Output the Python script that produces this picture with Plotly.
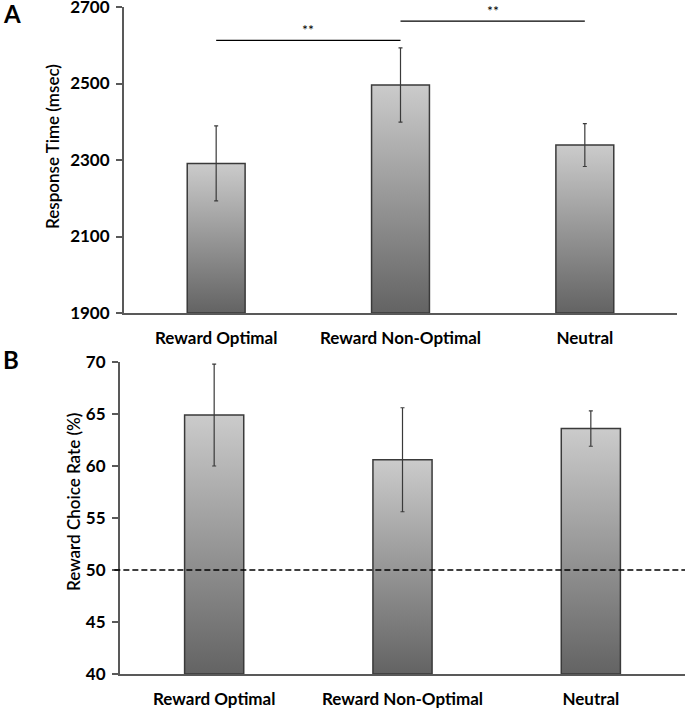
import plotly.graph_objects as go

conditions = ["Reward Optimal", "Reward Non-Optimal", "Neutral"]

rt_mean = [2291, 2496, 2339]
rt_err = [98, 97, 56]

choice_mean = [64.9, 60.6, 63.6]
choice_err = [4.9, 5.0, 1.7]

# significance brackets for panel A: (from, to, height)
sig_pairs = [(0, 1, 2613), (1, 2, 2663)]
chance_level = 50

W, H = 685, 709
BAR_W = 0.314
grad = [[0, "#636363"], [1, "#cbcbcb"]]
dark = "#3a3a3a"
FONT = "Lato"

fig = go.Figure()


def px(v, total):
    return v / total


def add_bars(means, errs, base, xa, ya):
    for i, m in enumerate(means):
        x0, x1 = i - BAR_W / 2, i + BAR_W / 2
        fig.add_trace(go.Scatter(
            x=[x0, x0, x1, x1, x0], y=[base, m, m, base, base],
            mode="lines", fill="toself",
            fillgradient=dict(type="vertical", colorscale=grad),
            line=dict(color=dark, width=1.5),
            xaxis=xa, yaxis=ya, showlegend=False, hoverinfo="skip"))
    fig.add_trace(go.Scatter(
        x=list(range(len(means))), y=means, mode="markers",
        marker=dict(size=1, opacity=0),
        error_y=dict(type="data", array=errs, color=dark, thickness=1.2, width=2),
        xaxis=xa, yaxis=ya, showlegend=False))


add_bars(rt_mean, rt_err, 1900, "x", "y")
add_bars(choice_mean, choice_err, 40, "x2", "y2")

for a, b, h in sig_pairs:
    fig.add_trace(go.Scatter(x=[a, b], y=[h, h], mode="lines",
                             line=dict(color="black", width=1.3),
                             xaxis="x", yaxis="y", showlegend=False, hoverinfo="skip"))
    fig.add_annotation(x=(a + b) / 2, y=h, xref="x", yref="y", text="**",
                       showarrow=False, yanchor="bottom", yshift=0,
                       font=dict(family=FONT, size=14, color="black"))

fig.add_shape(type="line", xref="x2 domain", yref="y2", x0=-0.01, x1=1,
              y0=chance_level, y1=chance_level,
              line=dict(color="black", width=1.5, dash="6px,3px"))

xcommon = dict(range=[-0.5, 2.5], tickvals=[0, 1, 2], ticktext=conditions,
               showline=True, linecolor="#595959", linewidth=2, ticks="",
               showgrid=False, zeroline=False, fixedrange=True, automargin=False,
               ticklabeloverflow="allow", ticklabelstandoff=9,
               tickfont=dict(family=FONT, size=17, color="black", weight="bold"))
ycommon = dict(showline=True, linecolor="#595959", linewidth=2, ticks="outside",
               ticklen=6, tickwidth=1.5, tickcolor="#595959", automargin=False,
               showgrid=False, zeroline=False, ticklabelstandoff=3, fixedrange=True,
               ticklabeloverflow="allow",
               tickfont=dict(family=FONT, size=17, color="black", weight="bold"))

fig.update_layout(
    width=W, height=H, margin=dict(l=0, r=0, t=0, b=0),
    plot_bgcolor="white", paper_bgcolor="white",
    xaxis=dict(domain=[px(124, W), px(677, W)], anchor="y", **xcommon),
    yaxis=dict(domain=[1 - px(313, H), 1 - px(7, H)], range=[1900, 2700],
               tickvals=[1900, 2100, 2300, 2500, 2700], anchor="x", **ycommon),
    xaxis2=dict(domain=[px(120, W), 1], anchor="y2", **xcommon),
    yaxis2=dict(domain=[1 - px(674, H), 1 - px(362, H)], range=[40, 70],
                tickvals=[40, 45, 50, 55, 60, 65, 70], anchor="x2", **ycommon),
)

# panel letters and axis titles
fig.add_annotation(text="A", x=px(1, W), y=1 + px(3, H), xref="paper", yref="paper",
                   xanchor="left", yanchor="top", showarrow=False,
                   font=dict(family=FONT, size=24, color="black", weight="bold"))
fig.add_annotation(text="B", x=px(1, W), y=1 - px(343, H), xref="paper", yref="paper",
                   xanchor="left", yanchor="top", showarrow=False,
                   font=dict(family=FONT, size=24, color="black", weight="bold"))
fig.add_annotation(text="Response Time (msec)", x=px(52, W), y=1 - px(147, H),
                   xref="paper", yref="paper", textangle=-90, showarrow=False,
                   xanchor="center", yanchor="middle",
                   font=dict(family=FONT, size=17, color="black", weight=600))
fig.add_annotation(text="Reward Choice Rate (%)", x=px(73, W), y=1 - px(502, H),
                   xref="paper", yref="paper", textangle=-90, showarrow=False,
                   xanchor="center", yanchor="middle",
                   font=dict(family=FONT, size=17, color="black", weight=600))

fig.write_html("out.html", config={"displayModeBar": False},
               post_script="document.body.style.margin='0';"
                           "document.body.style.overflow='hidden';")
